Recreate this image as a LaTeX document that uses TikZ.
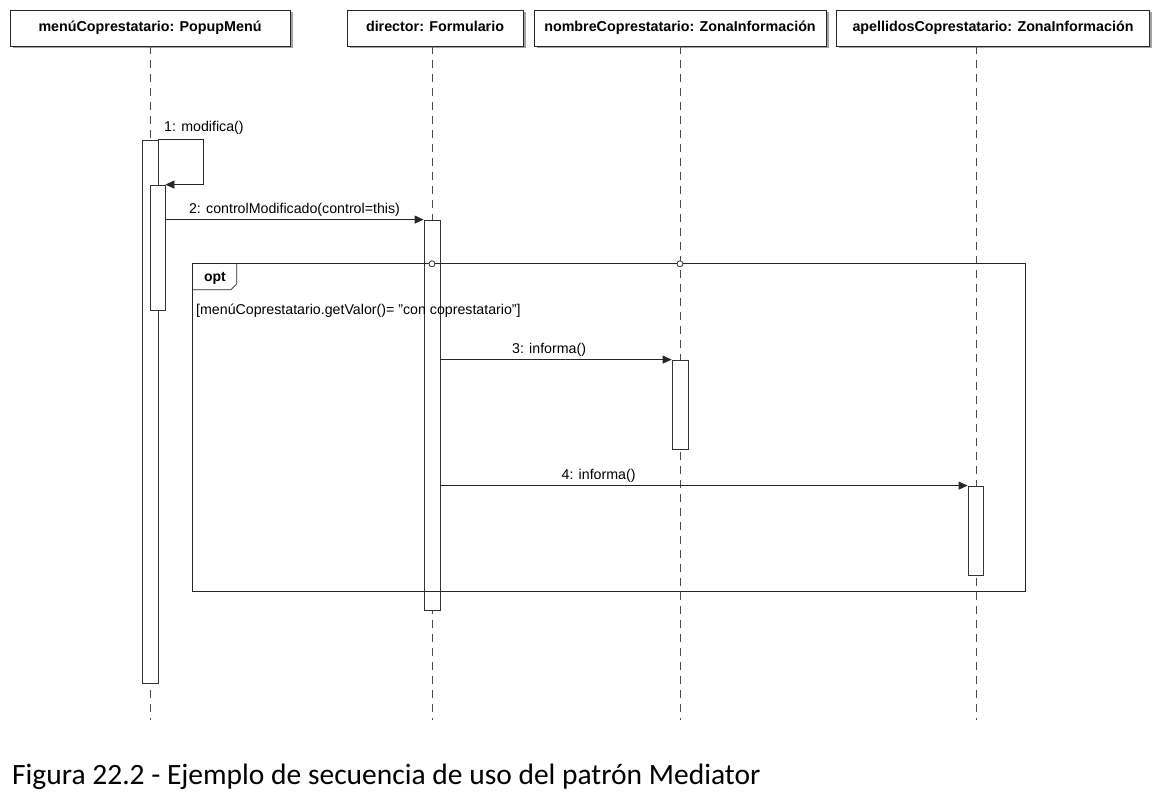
\documentclass[tikz,border=0pt]{standalone}
\usepackage{fontspec}
\setmainfont{Liberation Sans}
\newfontfamily\captionfont{Carlito}
\usepackage{tikz}
\usetikzlibrary{arrows.meta, positioning, shadows, calc}

\begin{document}
\begin{tikzpicture}[
    x=1pt, y=-1pt,
    % Styles
    header/.style={rectangle, draw=black!85, fill=white, thick, minimum height=36pt, inner sep=2pt, text height=10.5pt, text depth=3pt, align=center, font=\fontsize{14.3}{16}\selectfont\bfseries, drop shadow={shadow xshift=2.5pt, shadow yshift=-2.5pt, fill=black!45, opacity=0.8}},
    lifeline/.style={draw=black!70, thick, dash pattern=on 8pt off 6pt},
    activation/.style={rectangle, draw=black!80, fill=white, thick, minimum width=16pt, inner sep=0pt},
    msg/.style={-{Triangle[length=9pt, width=8pt]}, thick, draw=black!85},
    msglabel/.style={font=\fontsize{14.2}{16}\selectfont, inner sep=1pt},
    gate/.style={circle, draw=black!80, fill=white, thick, minimum size=6pt, inner sep=0pt},
    frame/.style={draw=black!85, thick}
]
    \useasboundingbox (0,0) rectangle (1161,794);

    % --- Headers ---
    \node[header, minimum width=280pt] (menu) at (150, 28) {menúCoprestatario: PopupMenú};
    \node[header, minimum width=176pt] (director) at (435, 28) {director: Formulario};
    \node[header, minimum width=292pt] (nombre) at (680, 28) {nombreCoprestatario: ZonaInformación};
    \node[header, minimum width=313pt] (apellidos) at (993, 28) {apellidosCoprestatario: ZonaInformación};

    % --- Lifelines ---
    \coordinate (endmenu) at (150, 720);
    \coordinate (enddirector) at (432, 720);
    \coordinate (endnombre) at (680, 720);
    \coordinate (endapellidos) at (976, 720);
    \foreach \n in {menu, director, nombre, apellidos}
        \draw[lifeline] (end\n |- \n.south) -- (end\n);

    % --- Activations ---
    \node[activation, minimum height=543pt] (actmenu) at (150, 411.5) {};
    \node[activation, minimum width=15pt, minimum height=125pt] (actself) at (157.5, 247.5) {};
    \node[activation, minimum height=390pt] (actdirector) at (432, 415) {};
    \node[activation, minimum height=89pt] (actnombre) at (680, 404.5) {};
    \node[activation, minimum width=15pt, minimum height=89pt] (actapellidos) at (975.5, 530.5) {};

    % --- opt fragment ---
    \node[draw=none, inner sep=0pt, minimum width=832pt, minimum height=327pt] (opt) at (609, 427.5) {};
    \draw[frame] (opt.north west) rectangle (opt.south east);
    \draw[frame] ($(opt.north west)+(0,26)$) -- ++(38,0) -- ++(6,-6) -- ++(0,-20);
    \node[font=\fontsize{14}{16}\selectfont\bfseries] (optlabel) at (215, 278) {opt};
    \node[msglabel, anchor=west] (guard) at (195, 311) {[menúCoprestatario.getValor()= "con coprestatario"]};
    \node[gate] (gatedirector) at (actdirector |- opt.north) {};
    \node[gate] (gatenombre) at (endnombre |- opt.north) {};

    % --- Messages ---
    \draw[msg] (actmenu.north east) -- ++(45,0) |- (actself.north east);
    \node[msglabel, anchor=south west] (m1) at (163, 136) {1: modifica()};

    \draw[msg] (actdirector.north west -| actself.east) -- (actdirector.north west)
        node[msglabel, midway, above=2pt] (m2) {2: controlModificado(control=this)};
    \draw[msg] (actnombre.north west -| actdirector.east) -- (actnombre.north west)
        node[msglabel, pos=0.47, above=2pt] (m3) {3: informa()};
    \draw[msg] (actapellidos.north west -| actdirector.east) -- (actapellidos.north west)
        node[msglabel, pos=0.3, above=2pt] (m4) {4: informa()};

    % --- Caption ---
    \node[anchor=west, inner sep=0pt, font=\captionfont\fontsize{29.5}{34}\selectfont] (caption) at (12, 777) {Figura 22.2 - Ejemplo de secuencia de uso del patrón Mediator};

\end{tikzpicture}
\end{document}
